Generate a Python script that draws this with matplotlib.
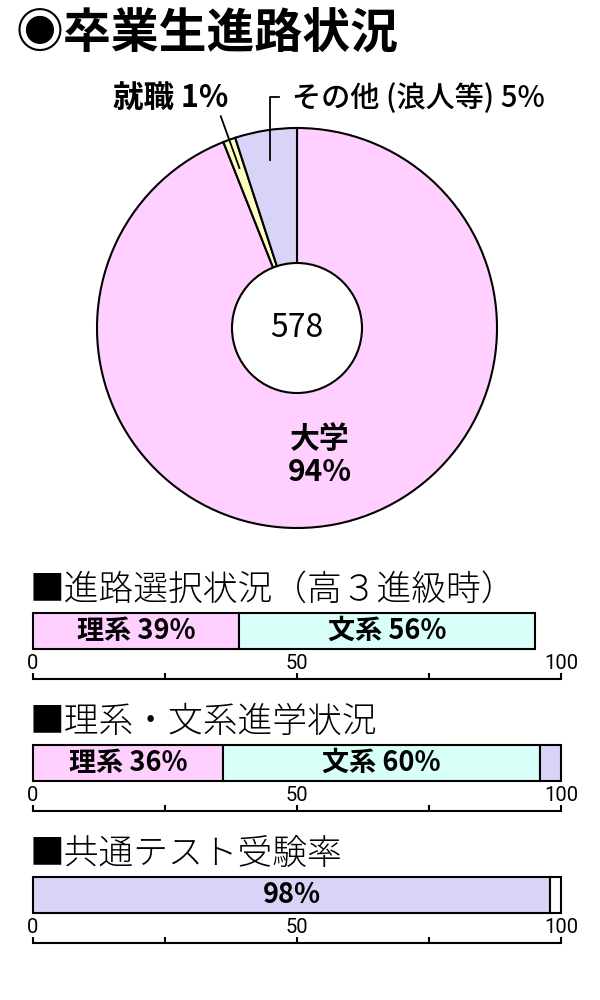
import numpy as np
import matplotlib
matplotlib.use("Agg")
import matplotlib.pyplot as plt
from matplotlib.patches import Circle

plt.rcParams['font.family'] = ['Noto Sans CJK JP', 'DejaVu Sans']

# ---------------- data ----------------
title = "◉卒業生進路状況"
pie_labels = ["大学", "就職", "その他 (浪人等) "]
pie_values = [94, 1, 5]
pie_colors = ["#FFD0FF", "#FFFFC0", "#D8D4F8"]
total_students = "578"

section_titles = ["■進路選択状況（高３進級時）", "■理系・文系進学状況", "■共通テスト受験率"]
bar1_labels = ["理系 39%", "文系 56%"]
bar1_values = [39, 56]
bar1_colors = ["#FFD0FF", "#D8FFF8"]
bar2_labels = ["理系 36%", "文系 60%", ""]
bar2_values = [36, 60, 4]
bar2_colors = ["#FFD0FF", "#D8FFF8", "#D8D4F8"]
bar3_labels = ["98%", ""]
bar3_values = [98, 2]
bar3_colors = ["#D8D4F8", "#FFFFFF"]
tick_positions = [0, 25, 50, 75, 100]
tick_labels = ["0", "", "50", "", "100"]

W, H = 600, 1000
fig = plt.figure(figsize=(6, 10), dpi=100)
fig.patch.set_facecolor("white")

def fx(px):
    return px / W

def fy(py):
    return 1 - py / H

# title
fig.text(fx(16), fy(33), title, fontsize=34.5, fontweight="bold", va="center", ha="left")

# ---------------- pie ----------------
cx, cy, R = 297, 328, 200
axp = fig.add_axes([fx(cx - R), fy(cy + R), 2 * R / W, 2 * R / H])
wedges, _ = axp.pie(pie_values, colors=pie_colors, startangle=90, counterclock=False,
                    wedgeprops=dict(edgecolor="black", linewidth=1.5))
axp.set_xlim(-1, 1)
axp.set_ylim(-1, 1)
axp.set_aspect("equal")
axp.axis("off")
axp.add_patch(Circle((0, 0), 0.325, facecolor="white", edgecolor="black", linewidth=1.5, zorder=5))
axp.text(0, 0, total_students, fontsize=23, ha="center", va="center", zorder=6)

def mid_angle(w):
    return np.deg2rad((w.theta1 + w.theta2) / 2)

# 大学 label inside
a0 = mid_angle(wedges[0])
axp.text(0.65 * np.cos(a0) - 0.01, 0.65 * np.sin(a0),
         f"{pie_labels[0]}\n{pie_values[0]}%", fontsize=21.5, fontweight="bold",
         ha="center", va="center", linespacing=1.15)

# 就職 leader + label
a1 = mid_angle(wedges[1])
axp.plot([0.85 * np.cos(a1), 1.125 * np.cos(a1)], [0.85 * np.sin(a1), 1.125 * np.sin(a1)],
         color="black", lw=1.3, clip_on=False, zorder=7)
axp.text(-0.63, 1.15, f"{pie_labels[1]} {pie_values[1]}%", fontsize=22, fontweight="bold",
         ha="center", va="center", clip_on=False)

# その他 leader + label
a2 = mid_angle(wedges[2])
lx = 0.85 * np.cos(a2)
axp.plot([lx, lx, lx + 0.045], [0.85 * np.sin(a2), 1.155, 1.155], color="black", lw=1.3,
         clip_on=False, zorder=7)
axp.text(-0.025, 1.15, f"{pie_labels[2]}{pie_values[2]}%", fontsize=21, fontweight="medium",
         ha="left", va="center", clip_on=False)

# ---------------- bars ----------------
bar_specs = [
    (bar1_values, bar1_colors, bar1_labels, 613, 590),
    (bar2_values, bar2_colors, bar2_labels, 745, 722),
    (bar3_values, bar3_colors, bar3_labels, 877, 854),
]
bar_h_px, axis_gap_px = 36, 30
for (vals, cols, labs, top, head_y), stitle in zip(bar_specs, section_titles):
    fig.text(fx(30), fy(head_y), stitle, fontsize=25, fontweight="light", va="center", ha="left")
    bottom_px = top + bar_h_px + axis_gap_px
    ax = fig.add_axes([fx(33), fy(bottom_px), 528 / W, (bar_h_px + axis_gap_px) / H])
    ax.set_xlim(0, 100)
    ax.set_ylim(-axis_gap_px / bar_h_px, 1)
    left = 0
    for v, c, lab in zip(vals, cols, labs):
        ax.barh(0.5, v, left=left, height=1, color=c, edgecolor="black", linewidth=1.5,
                clip_on=False)
        if lab:
            ax.text(left + v / 2, 0.5, lab, fontsize=19.5, fontweight="bold",
                    ha="center", va="center")
        left += v
    for s in ["top", "left", "right"]:
        ax.spines[s].set_visible(False)
    ax.spines["bottom"].set_linewidth(1.5)
    ax.set_yticks([])
    ax.set_xticks(tick_positions)
    ax.set_xticklabels([])
    ax.tick_params(axis="x", direction="in", length=4.5, width=1.5)
    for t, tl in zip(tick_positions, tick_labels):
        if tl:
            ax.text(t, -14 / bar_h_px - 0.02, tl, fontsize=14.5, family=["Roboto", "DejaVu Sans"],
                    color="black", ha="center", va="center")

fig.savefig("out.png", dpi=100, facecolor="white")
